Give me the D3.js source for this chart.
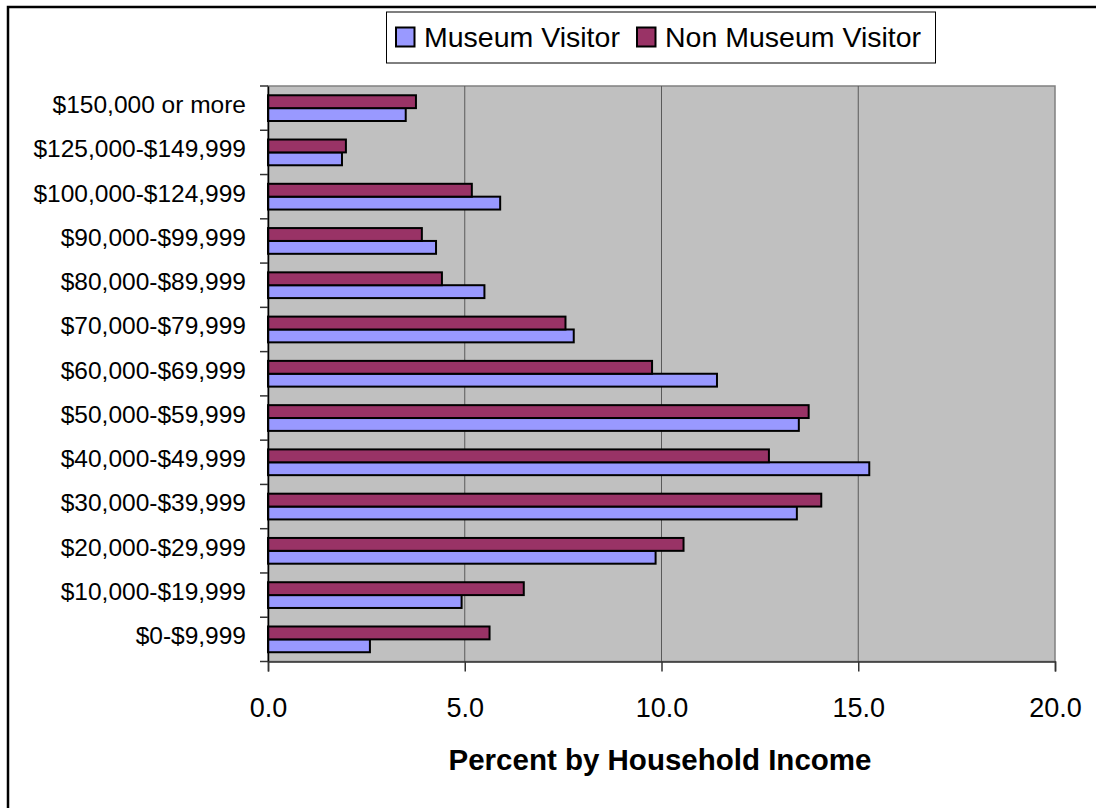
<!DOCTYPE html>
<html>
<head>
<meta charset="utf-8">
<script src="https://cdn.jsdelivr.net/npm/d3@7"></script>
<style>
  html, body { margin: 0; padding: 0; background: #fff; }
  svg { display: block; font-family: "Liberation Sans", Arial, sans-serif; }
</style>
</head>
<body>
<svg id="chart" width="1096" height="808"></svg>
<script>
// Household income brackets, lowest first
const categories = [
  "$0-$9,999", "$10,000-$19,999", "$20,000-$29,999", "$30,000-$39,999",
  "$40,000-$49,999", "$50,000-$59,999", "$60,000-$69,999", "$70,000-$79,999",
  "$80,000-$89,999", "$90,000-$99,999", "$100,000-$124,999",
  "$125,000-$149,999", "$150,000 or more"
];
// Percent of each group in each bracket
const museumVisitor    = [2.59, 4.92, 9.85, 13.44, 15.28, 13.49, 11.41, 7.77, 5.50, 4.27, 5.90, 1.88, 3.50];
const nonMuseumVisitor = [5.63, 6.50, 10.56, 14.06, 12.73, 13.74, 9.76, 7.56, 4.42, 3.91, 5.18, 1.98, 3.76];
const seriesNames  = ["Museum Visitor", "Non Museum Visitor"];
const seriesColors = ["#9999FF", "#993366"];
const xTicks = [0, 5, 10, 15, 20];
const axisTitle = "Percent by Household Income";

const svg = d3.select("#chart");
const plot = { left: 268, right: 1055, top: 86, bottom: 661.5 };

// chart frame (left and top edges)
svg.append("path")
  .attr("d", `M8,808 V7 H1096`)
  .attr("fill", "none").attr("stroke", "#000").attr("stroke-width", 2.5);

const x = d3.scaleLinear().domain([0, 20]).range([plot.left, plot.right]);
const y = d3.scaleBand().domain(categories.slice().reverse())
  .range([plot.top, plot.bottom]).padding(0);
// Non visitors on top, visitors beneath within each bracket
const ySub = d3.scaleBand().domain([1, 0]).range([0, y.bandwidth()])
  .paddingInner(0).paddingOuter(0.72);

// plot background
svg.append("rect")
  .attr("x", plot.left).attr("y", plot.top)
  .attr("width", plot.right - plot.left).attr("height", plot.bottom - plot.top)
  .attr("fill", "#C0C0C0").attr("stroke", "#808080").attr("stroke-width", 1.5);

// vertical gridlines
svg.append("g").selectAll("line")
  .data(xTicks.filter(t => t > 0 && t < 20))
  .join("line")
  .attr("x1", d => x(d)).attr("x2", d => x(d))
  .attr("y1", plot.top).attr("y2", plot.bottom)
  .attr("stroke", "#5a5a5a").attr("stroke-width", 1);

// bars
const rows = categories.map((c, i) => ({ c, vals: [museumVisitor[i], nonMuseumVisitor[i]] }));
const groups = svg.append("g").selectAll("g")
  .data(rows).join("g")
  .attr("transform", d => `translate(0,${y(d.c)})`);
groups.selectAll("rect")
  .data(d => d.vals.map((v, s) => ({ v, s })))
  .join("rect")
  .attr("x", x(0))
  .attr("y", d => ySub(d.s))
  .attr("width", d => x(d.v) - x(0))
  .attr("height", ySub.bandwidth())
  .attr("fill", d => seriesColors[d.s])
  .attr("stroke", "#000").attr("stroke-width", 2);

// category axis
const yAxis = svg.append("g")
  .attr("transform", `translate(${plot.left},0)`)
  .call(d3.axisLeft(y).tickSize(0).tickPadding(22));
yAxis.select(".domain").attr("stroke", "#000").attr("stroke-width", 1.5);
yAxis.selectAll("text")
  .attr("font-size", 24.5).attr("fill", "#000")
  .attr("font-family", "'Liberation Sans', Arial, sans-serif")
  .attr("dy", "0.2em");
// tick marks between brackets
svg.append("g").selectAll("line")
  .data(d3.range(categories.length + 1))
  .join("line")
  .attr("x1", plot.left - 8).attr("x2", plot.left)
  .attr("y1", i => plot.top + i * y.step()).attr("y2", i => plot.top + i * y.step())
  .attr("stroke", "#333").attr("stroke-width", 1.5);

// value axis
const xAxis = svg.append("g")
  .attr("transform", `translate(0,${plot.bottom})`)
  .call(d3.axisBottom(x).tickValues(xTicks).tickFormat(d3.format(".1f"))
    .tickSize(10).tickPadding(26));
xAxis.select(".domain").attr("stroke", "#333").attr("stroke-width", 1.5);
xAxis.selectAll(".tick line").attr("stroke", "#333").attr("stroke-width", 1.5);
xAxis.selectAll("text")
  .attr("font-size", 27).attr("fill", "#000")
  .attr("font-family", "'Liberation Sans', Arial, sans-serif");

svg.append("text")
  .attr("x", 660).attr("y", 770)
  .attr("text-anchor", "middle")
  .attr("font-size", 29.5).attr("font-weight", "bold")
  .text(axisTitle);

// legend
const legend = svg.append("g");
legend.append("rect")
  .attr("x", 386.5).attr("y", 12).attr("width", 549).attr("height", 51)
  .attr("fill", "#fff").attr("stroke", "#000").attr("stroke-width", 1);
const legendX = [396, 637];
const items = legend.selectAll("g.item")
  .data(seriesNames.map((n, i) => ({ n, i })))
  .join("g").attr("class", "item")
  .attr("transform", d => `translate(${legendX[d.i]},0)`);
items.append("rect")
  .attr("x", 0).attr("y", 27.5).attr("width", 18.5).attr("height", 19)
  .attr("fill", d => seriesColors[d.i])
  .attr("stroke", "#000").attr("stroke-width", 2);
items.append("text")
  .attr("x", 28).attr("y", 47)
  .attr("font-size", 28.5)
  .text(d => d.n);
</script>
</body>
</html>
